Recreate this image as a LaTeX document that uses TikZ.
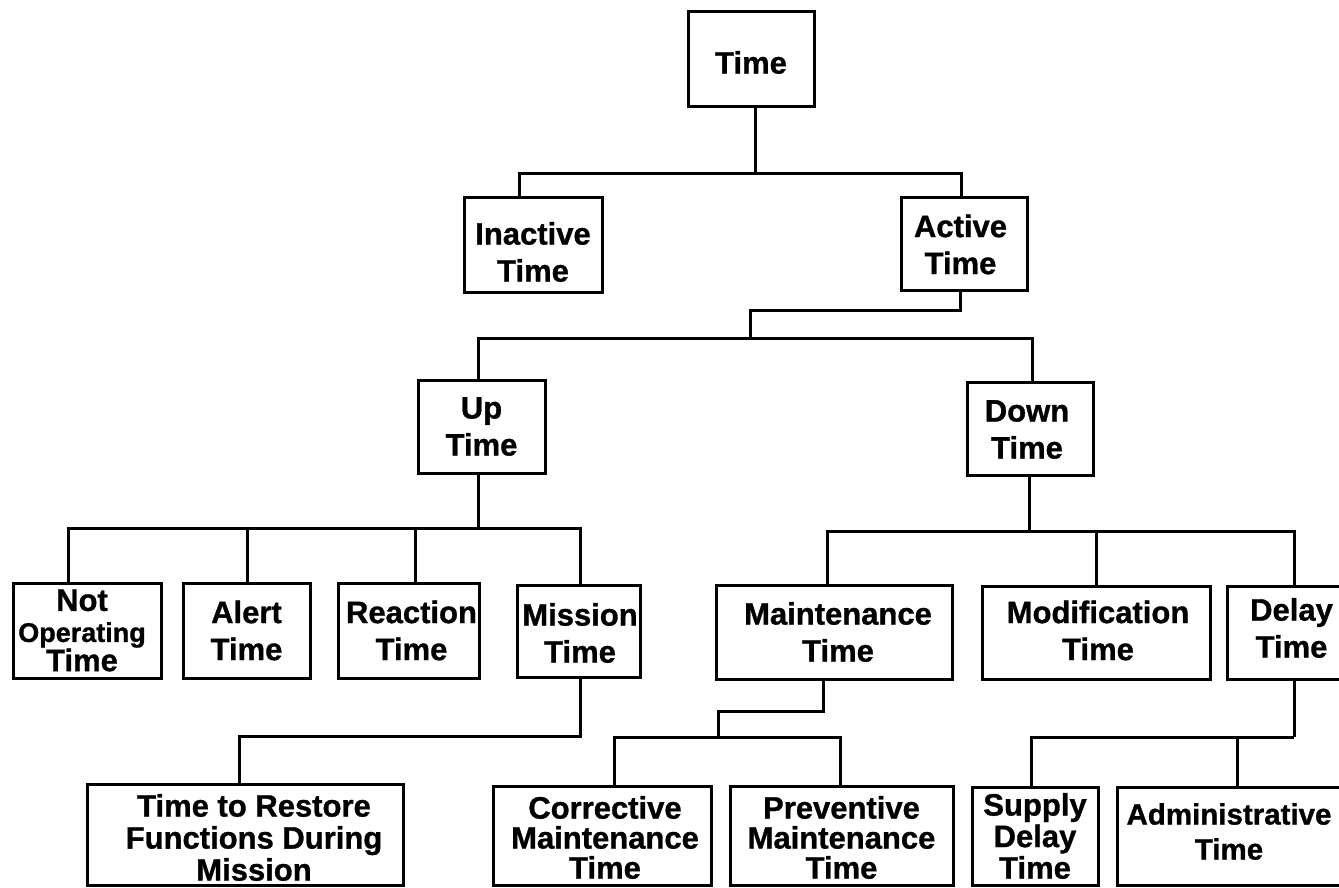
\documentclass[tikz,border=0pt]{standalone}
\usepackage{fontspec}
\setmainfont{Liberation Sans}[BoldFeatures={FakeBold=1}]
\begin{document}
\begin{tikzpicture}[x=1pt,y=-1pt,
  box/.style={draw, line width=3pt, rectangle, inner sep=0pt, fill=white},
  lbl/.style={font=\fontsize{31}{37}\selectfont\bfseries, align=center, inner sep=0pt},
  lblt/.style={font=\fontsize{31}{31}\selectfont\bfseries, align=center, inner sep=0pt},
  conn/.style={line width=3pt, line join=miter}]
\useasboundingbox (0,0) rectangle (1339,887);
\fill[white] (0,0) rectangle (1339,887);
\clip (0,0) rectangle (1339,887);

% level 0-1
\node[box, minimum width=126pt, minimum height=95pt,
  label={[lbl, yshift=-4pt]center:{Time}}] (time) at (751,58.5) {};
\node[box, minimum width=138pt, minimum height=95pt,
  label={[lbl, yshift=-7.5pt]center:{Inactive\\Time}}] (inactive) at (533,244.5) {};
\node[box, minimum width=126pt, minimum height=93pt,
  label={[lbl, xshift=-3.5pt, yshift=-1pt]center:{Active\\Time}}] (active) at (964,243.5) {};

% level 2
\node[box, minimum width=127pt, minimum height=93pt,
  label={[lbl]center:{Up\\Time}}] (up) at (481.5,426.5) {};
\node[box, minimum width=126pt, minimum height=93pt,
  label={[lbl, xshift=-3pt, yshift=-1pt]center:{Down\\Time}}] (down) at (1030,428.5) {};

% level 3
\node[box, minimum width=148pt, minimum height=95pt,
  label={[lblt, font=\fontsize{31}{28}\selectfont\bfseries, xshift=-5pt]center:{Not\\[3pt]{\fontsize{27}{28}\selectfont Operating}\\Time}}] (notop) at (87,630.5) {};
\node[box, minimum width=127pt, minimum height=95pt,
  label={[lbl]center:{Alert\\Time}}] (alert) at (246.5,630.5) {};
\node[box, minimum width=141pt, minimum height=95pt,
  label={[lbl, xshift=3pt]center:{Reaction\\Time}}] (reaction) at (408.5,630.5) {};
\node[box, minimum width=123pt, minimum height=92pt,
  label={[lbl, xshift=1.5pt, yshift=-2pt]center:{Mission\\Time}}] (mission) at (578.5,631) {};
\node[box, minimum width=236pt, minimum height=94pt,
  label={[lbl, xshift=4pt]center:{Maintenance\\Time}}] (maint) at (834,632) {};
\node[box, minimum width=228pt, minimum height=93pt,
  label={[lbl, xshift=2pt, yshift=2pt]center:{Modification\\Time}}] (modif) at (1096,632.5) {};
\node[box, minimum width=129pt, minimum height=93pt,
  label={[lbl, yshift=4.5pt]center:{Delay\\Time}}] (delay) at (1291.5,632.5) {};

% level 4
\node[box, minimum width=316pt, minimum height=101pt,
  label={[lblt, font=\fontsize{31}{32}\selectfont\bfseries, xshift=9pt, yshift=-3pt]center:{Time to Restore\\Functions During\\Mission}}] (restore) at (245,834.5) {};
\node[box, minimum width=218pt, minimum height=99pt,
  label={[lblt, font=\fontsize{31}{30}\selectfont\bfseries, xshift=3pt, yshift=-2pt]center:{Corrective\\Maintenance\\Time}}] (corr) at (602,835.5) {};
\node[box, minimum width=223pt, minimum height=99pt,
  label={[lblt, font=\fontsize{31}{30}\selectfont\bfseries, yshift=-2pt]center:{Preventive\\Maintenance\\Time}}] (prev) at (841.5,835.5) {};
\node[box, minimum width=126pt, minimum height=98pt,
  label={[lblt, font=\fontsize{31}{31.5}\selectfont\bfseries]center:{Supply\\Delay\\Time}}] (supply) at (1035,836) {};
\node[box, minimum width=240pt, minimum height=98pt,
  label={[lbl, font=\fontsize{29.5}{35}\selectfont\bfseries, xshift=-8pt, yshift=4.5pt]center:{Administrative\\Time}}] (admin) at (1237,836) {};

% junctions
\coordinate (j1) at (755,173);
\coordinate (k2) at (750,310);
\coordinate (j2) at (750,338);
\coordinate (j3) at (478,528);
\coordinate (j4) at (580,736);
\coordinate (j5) at (1029,531);
\coordinate (k6) at (718,711);
\coordinate (j6) at (718,737);
\coordinate (j7) at (1294,737);

% attachment points
\coordinate (alertN) at ([xshift=0.5pt]alert.north);
\coordinate (reactN) at ([xshift=6.5pt]reaction.north);
\coordinate (modifN) at (modif.north);
\coordinate (adminN) at (admin.north);

% connectors
\draw[conn] ([xshift=4pt]time.south) -- (j1);
\draw[conn] ([xshift=-13.5pt]inactive.north) |- (j1) -| ([xshift=-3pt]active.north);

\draw[conn] ([xshift=-4pt]active.south) |- (k2) -- (j2);
\draw[conn] ([xshift=-3.5pt]up.north) |- (j2) -| ([xshift=2pt]down.north);

\draw[conn] ([xshift=-3.5pt]up.south) -- (j3);
\draw[conn] ([xshift=-19pt]notop.north) |- (j3) -| ([xshift=1.5pt]mission.north);
\draw[conn] (alertN) -- (alertN |- j3);
\draw[conn] (reactN) -- (reactN |- j3);

\draw[conn] ([xshift=1.5pt]mission.south) -- (j4) -| ([xshift=-6pt]restore.north);

\draw[conn] ([xshift=-1pt]down.south) -- (j5);
\draw[conn] ([xshift=-7pt]maint.north) |- (j5) -| ([xshift=2.5pt]delay.north);
\draw[conn] (modifN) -- (modifN |- j5);

\draw[conn] ([xshift=-11pt]maint.south) |- (k6) -- (j6);
\draw[conn] ([xshift=12pt]corr.north) |- (j6) -| ([xshift=-1.5pt]prev.north);

\draw[conn] ([xshift=2.5pt]delay.south) -- (j7);
\draw[conn] ([xshift=-4pt]supply.north) |- (j7);
\draw[conn] (adminN) -- (adminN |- j7);
\end{tikzpicture}
\end{document}
